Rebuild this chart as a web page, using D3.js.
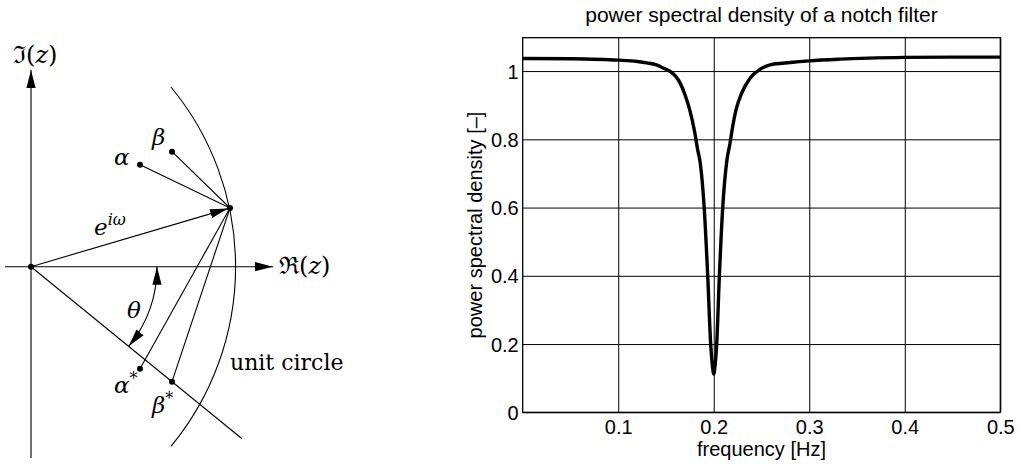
<!DOCTYPE html>
<meta charset="utf-8">
<style>
body { margin: 0; background: #fff; }
svg { display: block; }
.tick text { font-family: "Liberation Sans", Arial, sans-serif; font-size: 20px; fill: #000; }
.math { font-family: "DejaVu Serif", "Liberation Serif", serif; fill: #000; }
</style>
<body>
<script src="https://d3js.org/d3.v7.min.js"></script>
<script>
	// ---- notch filter spectrum
	var freq = [0, 0.05, 0.1, 0.12, 0.13, 0.14, 0.145, 0.15, 0.155, 0.16, 0.165, 0.17, 0.175, 0.18, 0.183, 0.186,
	            0.19, 0.1937, 0.1968, 0.1985, 0.2, 0.2015, 0.2031, 0.2059, 0.2094, 0.2136, 0.217, 0.2198, 0.2233,
	            0.2292, 0.238, 0.2484, 0.259, 0.28, 0.3, 0.332, 0.4, 0.45, 0.5];
	var psd  = [1.037, 1.036, 1.032, 1.028, 1.024, 1.018, 1.012, 1.005, 0.998, 0.985, 0.964, 0.93, 0.885, 0.822, 0.772, 0.728,
	            0.60, 0.40, 0.20, 0.14, 0.112, 0.14, 0.20, 0.40, 0.60, 0.735, 0.788, 0.837, 0.886,
	            0.935, 0.979, 1.005, 1.018, 1.025, 1.03, 1.035, 1.04, 1.041, 1.041];
	var xTicks = [0.1, 0.2, 0.3, 0.4, 0.5];
	var yTicks = [0, 0.2, 0.4, 0.6, 0.8, 1];

	// ---- pole / zero sketch, in complex plane units
	var expPoint = [0.995, 0.2935];                   // e^{iw} on the unit circle
	var alphaPts = [[0.545, 0.51], [0.545, -0.51]];   // alpha, alpha*
	var betaPts  = [[0.705, 0.575], [0.705, -0.575]]; // beta, beta*
	var rayEnd = [1.055, -0.86];
	var circleCentre = [-0.387, 0], circleRadius = 1.41, circleTop = 0.8985;
	var thetaRadius = 0.63;

	var svg = d3.select("body").append("svg")
		.attr("width", 1018)
		.attr("height", 464);

	var defs = svg.append("defs");
	defs.append("marker")
		.attr("id", "head")
		.attr("markerUnits", "userSpaceOnUse")
		.attr("viewBox", "0 0 18 10")
		.attr("markerWidth", 18).attr("markerHeight", 10)
		.attr("refX", 18).attr("refY", 5)
		.attr("orient", "auto-start-reverse")
	  .append("path")
		.attr("d", "M0,0.4 L18,5 L0,9.6 Z")
		.attr("fill", "#000");

	// ================= left: complex plane sketch =================
	var sx = d3.scaleLinear().domain([0, 1]).range([31, 231]);
	var sy = d3.scaleLinear().domain([0, 1]).range([266.7, 66.7]);
	var left = svg.append("g");

	function seg(a, b, w) {
		return left.append("line")
			.attr("x1", sx(a[0])).attr("y1", sy(a[1]))
			.attr("x2", sx(b[0])).attr("y2", sy(b[1]))
			.attr("stroke", "#000").attr("stroke-width", w || 1.1);
	}

	// axes
	seg([0, -0.957], [0, 0.983]).attr("marker-end", "url(#head)");
	seg([-0.13, 0], [1.21, 0]).attr("marker-end", "url(#head)");
	// lower ray through beta*
	seg([0, 0], rayEnd);
	// e^{iw} vector
	seg([0, 0], [expPoint[0] - 0.01, expPoint[1] - 0.003]).attr("marker-end", "url(#head)");
	alphaPts.concat(betaPts).forEach(function(p) { seg(p, expPoint); });

	// unit circle arc
	var r = sx(circleRadius) - sx(0);
	left.append("path")
		.attr("d", function() {
			var dx = Math.sqrt(circleRadius * circleRadius - circleTop * circleTop);
			return "M" + sx(circleCentre[0] + dx) + "," + sy(circleTop) +
				" A" + r + "," + r + " 0 0 1 " + sx(circleCentre[0] + dx) + "," + sy(-circleTop);
		})
		.attr("fill", "none").attr("stroke", "#000").attr("stroke-width", 1.1);

	// theta arc with heads at both ends
	var ang = Math.atan2(-rayEnd[1], rayEnd[0]);
	var tr = sx(thetaRadius) - sx(0);
	left.append("path")
		.attr("d", "M" + sx(thetaRadius) + "," + sy(0) +
			" A" + tr + "," + tr + " 0 0 1 " + sx(thetaRadius * Math.cos(ang)) + "," + sy(-thetaRadius * Math.sin(ang)))
		.attr("fill", "none").attr("stroke", "#000").attr("stroke-width", 1.1)
		.attr("marker-start", "url(#head)")
		.attr("marker-end", "url(#head)");

	// dots
	left.selectAll("circle.pt")
		.data([[0, 0], expPoint].concat(alphaPts, betaPts))
	  .enter().append("circle")
		.attr("cx", function(d) { return sx(d[0]); })
		.attr("cy", function(d) { return sy(d[1]); })
		.attr("r", 3)
		.attr("fill", "#000");

	// labels
	function mtext(x, y, size) {
		return left.append("text").attr("class", "math")
			.attr("x", x).attr("y", y).style("font-size", size + "px");
	}
	function axisName(x, y, letter) {
		var t = mtext(x, y, 24);
		t.append("tspan").text(letter);
		t.append("tspan").style("font-weight", "300").text("(");
		t.append("tspan").style("font-style", "italic").text("z");
		t.append("tspan").text(")");
		return t;
	}
	axisName(13, 63, "ℑ");
	axisName(279, 274, "ℜ");

	var ex = mtext(94, 235, 23);
	ex.append("tspan").style("font-style", "italic").text("e");
	ex.append("tspan").style("font-style", "italic").style("font-size", "16px").attr("dy", -10).text("iω");

	mtext(114, 165, 23).style("font-style", "italic").text("α");
	mtext(152, 145, 23).style("font-style", "italic").text("β");
	mtext(127, 318, 23).style("font-style", "italic").text("θ");

	var as = mtext(114, 393, 23);
	as.append("tspan").style("font-style", "italic").text("α");
	as.append("tspan").style("font-size", "16px").attr("dy", -9).text("*");
	var bs = mtext(152, 413, 23);
	bs.append("tspan").style("font-style", "italic").text("β");
	bs.append("tspan").style("font-size", "16px").attr("dy", -9).text("*");

	mtext(230, 370, 22).text("unit circle");

	// ================= right: PSD chart =================
	var margin = {top: 37.7, left: 522.7},
		width = 477.6,
		height = 374.6;

	var x = d3.scaleLinear().domain([0, 0.5]).range([0, width]);
	var y = d3.scaleLinear().domain([0, 1.0978]).range([height, 0]);

	var g = svg.append("g")
		.attr("transform", "translate(" + margin.left + "," + margin.top + ")");

	// grid + tick labels
	var xAxis = g.append("g")
		.attr("transform", "translate(0," + height + ")")
		.call(d3.axisBottom(x).tickValues(xTicks).tickSize(-height).tickPadding(8).tickFormat(d3.format("")));
	var yAxis = g.append("g")
		.call(d3.axisLeft(y).tickValues(yTicks).tickSize(-width).tickPadding(4).tickFormat(d3.format("")));
	[xAxis, yAxis].forEach(function(a) {
		a.select(".domain").remove();
		a.selectAll(".tick line").attr("stroke", "#000").attr("stroke-width", 1);
	});
	yAxis.selectAll(".tick text").attr("dy", "0.35em");

	// frame
	g.append("rect")
		.attr("width", width).attr("height", height)
		.attr("fill", "none").attr("stroke", "#000").attr("stroke-width", 1.3);

	// curve
	var line = d3.line()
		.x(function(d) { return x(d[0]); })
		.y(function(d) { return y(d[1]); })
		.curve(d3.curveMonotoneX);
	g.append("path")
		.datum(d3.zip(freq, psd))
		.attr("d", line)
		.attr("fill", "none")
		.attr("stroke", "#000")
		.attr("stroke-width", 3.4)
		.attr("stroke-linejoin", "round");

	// titles
	var sans = "'Liberation Sans', Arial, sans-serif";
	svg.append("text")
		.attr("x", margin.left + width / 2).attr("y", 21.5)
		.attr("text-anchor", "middle")
		.style("font-family", sans).style("font-size", "21px")
		.text("power spectral density of a notch filter");
	svg.append("text")
		.attr("x", margin.left + width / 2).attr("y", 456)
		.attr("text-anchor", "middle")
		.style("font-family", sans).style("font-size", "20px")
		.text("frequency [Hz]");
	svg.append("text")
		.attr("transform", "translate(482," + (margin.top + height / 2) + ") rotate(-90)")
		.attr("text-anchor", "middle")
		.style("font-family", sans).style("font-size", "20px")
		.text("power spectral density [–]");
</script>
</body>
